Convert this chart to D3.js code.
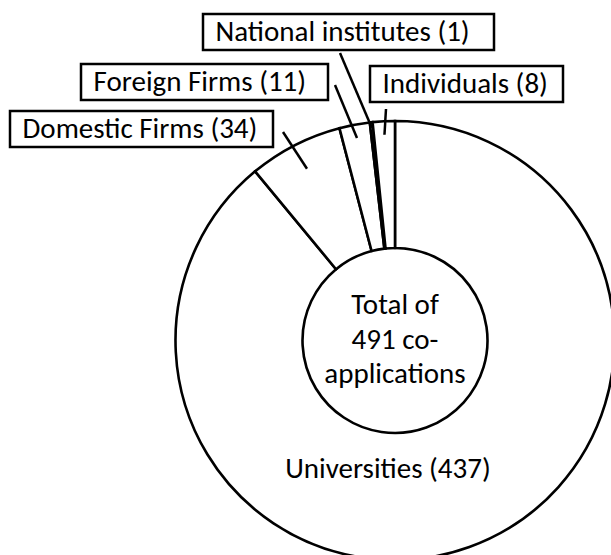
<!DOCTYPE html>
<html><head><meta charset="utf-8">
<script src="https://cdn.jsdelivr.net/npm/d3@7"></script>
<style>body{margin:0;background:#fff}</style>
</head><body>
<svg id="c" width="611" height="555"></svg>
<script>
// ---- data ----
const categories = ["Universities", "Domestic Firms", "Foreign Firms", "National institutes", "Individuals"];
const counts = [437, 34, 11, 1, 8];
const centerLines = ["Total of", "491 co-", "applications"];

// ---- layout ----
const cx = 395, cy = 340.5, rOuter = 219.5, rInner = 92.5;
const FONT = "Carlito, Calibri, Lato, sans-serif";
const FS = 29;

const svg = d3.select("#c");
const g = svg.append("g").attr("transform", `translate(${cx},${cy})`);

const data = categories.map((c, i) => ({ name: c, value: counts[i] }));
const pie = d3.pie().value(d => d.value).sort(null).startAngle(0).endAngle(2 * Math.PI);
const arcs = pie(data);
const arc = d3.arc().innerRadius(rInner).outerRadius(rOuter);

g.selectAll("path.slice").data(arcs).join("path")
  .attr("class", "slice")
  .attr("d", arc)
  .attr("fill", "#fff")
  .attr("stroke", "#000")
  .attr("stroke-width", 2.6)
  .attr("stroke-linejoin", "miter");

// center text
g.selectAll("text.center").data(centerLines).join("text")
  .attr("class", "center")
  .attr("x", 0)
  .attr("y", (d, i) => -26.5 + i * 34.5)
  .attr("text-anchor", "middle")
  .style("font-family", FONT).style("font-size", FS + "px")
  .text(d => d);

// Universities label inside ring
g.append("text")
  .attr("x", -7).attr("y", 137.2)
  .attr("text-anchor", "middle")
  .style("font-family", FONT).style("font-size", FS + "px")
  .text(`${categories[0]} (${counts[0]})`);

// callout labels (layout only): box, leader outer end, leader inner radius
const callouts = {
  "Domestic Firms":      { box: [10, 111, 263, 36], end: [283, 132], r: 193 },
  "Foreign Firms":       { box: [81, 64, 247, 36],  end: [335, 85],  r: 206 },
  "National institutes": { box: [203, 14, 291, 36], end: [340, 53],  r: 214 },
  "Individuals":         { box: [370, 66, 193, 36], end: [386, 109], r: 206 }
};

arcs.slice(1).forEach(a => {
  const L = callouts[a.data.name];
  const mid = (a.startAngle + a.endAngle) / 2;
  const ix = cx + L.r * Math.sin(mid), iy = cy - L.r * Math.cos(mid);
  svg.append("line")
    .attr("x1", ix).attr("y1", iy).attr("x2", L.end[0]).attr("y2", L.end[1])
    .attr("stroke", "#000").attr("stroke-width", 2.5);
  svg.append("rect")
    .attr("x", L.box[0]).attr("y", L.box[1]).attr("width", L.box[2]).attr("height", L.box[3])
    .attr("fill", "#fff").attr("stroke", "#000").attr("stroke-width", 2.5);
  svg.append("text")
    .attr("x", L.box[0] + 12.5).attr("y", L.box[1] + 27.3)
    .style("font-family", FONT).style("font-size", FS + "px")
    .text(`${a.data.name} (${a.data.value})`);
});
</script></body></html>
